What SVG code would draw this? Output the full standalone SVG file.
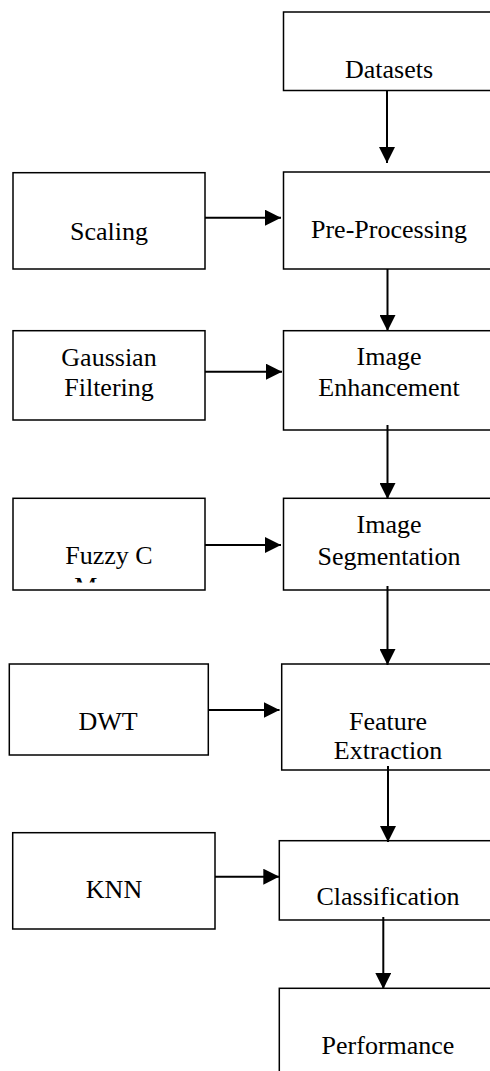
<svg xmlns="http://www.w3.org/2000/svg" width="490" height="1071" viewBox="0 0 490 1071">
<style>
.box{fill:#fff;stroke:#000;stroke-width:1.5}
.lbl{font-family:'Liberation Serif','DejaVu Serif',serif;font-size:26px;fill:#000;text-anchor:middle}
.conn{stroke:#000;stroke-width:2;fill:none;marker-end:url(#ah)}
</style>
<defs>
<marker id="ah" markerUnits="userSpaceOnUse" markerWidth="16" markerHeight="16" refX="16" refY="8" orient="auto">
<path d="M0,0 L16,8 L0,16 z" fill="#000"/>
</marker>
<clipPath id="fuzzyClip"><rect x="13" y="498" width="192" height="84.5"/></clipPath>
</defs>
<rect width="490" height="1071" fill="#fff"/>
<g id="datasets"><rect class="box" x="283.5" y="12" width="230" height="78.5"/><text class="lbl" x="389" y="78">Datasets</text></g>
<g id="preprocessing"><rect class="box" x="283.5" y="172" width="230" height="97"/><text class="lbl" x="389" y="238">Pre-Processing</text></g>
<g id="scaling"><rect class="box" x="13" y="172.7" width="192" height="96.3"/><text class="lbl" x="109" y="240">Scaling</text></g>
<g id="gaussian"><rect class="box" x="13" y="330.7" width="192" height="89.3"/><text class="lbl" x="109" y="366">Gaussian</text><text class="lbl" x="109" y="396">Filtering</text></g>
<g id="enhancement"><rect class="box" x="283.5" y="330.7" width="230" height="99.3"/><text class="lbl" x="389" y="365">Image</text><text class="lbl" x="389" y="396">Enhancement</text></g>
<g id="fuzzy"><rect class="box" x="13" y="498.3" width="192" height="91.7"/><g clip-path="url(#fuzzyClip)"><text class="lbl" x="109" y="564">Fuzzy C</text><text class="lbl" x="109" y="595">Means</text></g></g>
<g id="segmentation"><rect class="box" x="283.5" y="498.3" width="230" height="91.7"/><text class="lbl" x="389" y="533">Image</text><text class="lbl" x="389" y="565">Segmentation</text></g>
<g id="dwt"><rect class="box" x="9.3" y="664" width="199" height="91"/><text class="lbl" x="108" y="730">DWT</text></g>
<g id="feature"><rect class="box" x="281.7" y="664" width="230" height="106"/><text class="lbl" x="388" y="730">Feature</text><text class="lbl" x="388" y="759">Extraction</text></g>
<g id="knn"><rect class="box" x="12.7" y="832.7" width="202.3" height="96.3"/><text class="lbl" x="114" y="898">KNN</text></g>
<g id="classification"><rect class="box" x="279.3" y="840.7" width="230" height="79.3"/><text class="lbl" x="388" y="905">Classification</text></g>
<g id="performance"><rect class="box" x="279.3" y="988.3" width="230" height="100"/><text class="lbl" x="388" y="1054">Performance</text></g>
<g id="connectors">
<line class="conn" x1="387" y1="90.5" x2="387" y2="163"/>
<line class="conn" x1="387.5" y1="269" x2="387.5" y2="331"/>
<line class="conn" x1="387.5" y1="425" x2="387.5" y2="499"/>
<line class="conn" x1="387.5" y1="586" x2="387.5" y2="665"/>
<line class="conn" x1="388" y1="766" x2="388" y2="842"/>
<line class="conn" x1="383.3" y1="917" x2="383.3" y2="989"/>
<line class="conn" x1="205" y1="217.7" x2="281" y2="217.7"/>
<line class="conn" x1="205" y1="371.7" x2="282" y2="371.7"/>
<line class="conn" x1="205" y1="545" x2="281" y2="545"/>
<line class="conn" x1="208.3" y1="710" x2="279.5" y2="710"/>
<line class="conn" x1="215" y1="876.7" x2="279.3" y2="876.7"/>
</g>
</svg>
